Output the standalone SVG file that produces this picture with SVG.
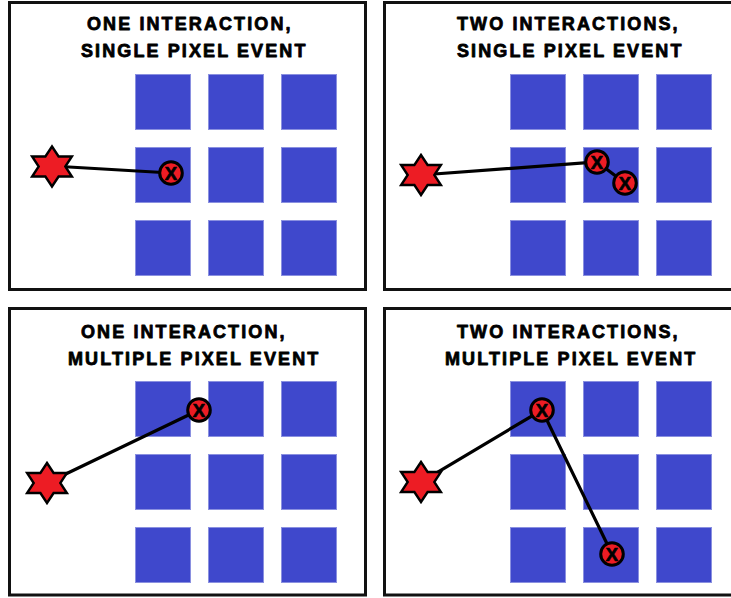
<svg xmlns="http://www.w3.org/2000/svg" xmlns:xlink="http://www.w3.org/1999/xlink" width="731" height="598" viewBox="0 0 731 598">
<style>
.frame{fill:#ffffff;stroke:#111111;stroke-width:3}
.px{fill:#3f48cc;stroke:#8a90e0;stroke-width:1}
.title{font-family:"Liberation Sans",Arial,sans-serif;font-weight:bold;font-size:18px;letter-spacing:2.1px;fill:#000;stroke:#000;stroke-width:0.8;stroke-linejoin:round}
.link{stroke:#000;stroke-width:3.2;fill:none;stroke-linecap:round}
.star{fill:#ed1c24;stroke:#000;stroke-width:2.4;stroke-linejoin:miter}
.hit{fill:#ed1c24;stroke:#000;stroke-width:3}
.xm{font-family:"Liberation Sans",Arial,sans-serif;font-weight:bold;font-size:18.5px;text-anchor:middle;fill:#000;stroke:#000;stroke-width:0.7}
</style>
<defs>
<path id="starShape" d="M0,-20 L6.6,-10 L19.9,-10 L13.3,0 L19.9,10 L6.6,10 L0,20 L-6.6,10 L-19.9,10 L-13.3,0 L-19.9,-10 L-6.6,-10 Z"/>
<g id="grid">
<rect class="px" x="0.5" y="0.5" width="55" height="55"/>
<rect class="px" x="73.5" y="0.5" width="55" height="55"/>
<rect class="px" x="146.5" y="0.5" width="55" height="55"/>
<rect class="px" x="0.5" y="73.5" width="55" height="55"/>
<rect class="px" x="73.5" y="73.5" width="55" height="55"/>
<rect class="px" x="146.5" y="73.5" width="55" height="55"/>
<rect class="px" x="0.5" y="146.5" width="55" height="55"/>
<rect class="px" x="73.5" y="146.5" width="55" height="55"/>
<rect class="px" x="146.5" y="146.5" width="55" height="55"/>
</g>
</defs>

<g id="panel-tl">
<rect class="frame" x="9.5" y="2.5" width="356" height="287"/>
<text class="title" x="87" y="30">ONE INTERACTION,</text>
<text class="title" x="81" y="57">SINGLE PIXEL EVENT</text>
<use xlink:href="#grid" x="135" y="74"/>
</g>
<g id="panel-tr">
<rect class="frame" x="384.5" y="2.5" width="350" height="287"/>
<text class="title" x="457" y="30">TWO INTERACTIONS,</text>
<text class="title" x="457" y="57">SINGLE PIXEL EVENT</text>
<use xlink:href="#grid" x="510" y="74"/>
</g>
<g id="panel-bl">
<rect class="frame" x="9.5" y="308.5" width="356" height="286.5"/>
<text class="title" x="81" y="338">ONE INTERACTION,</text>
<text class="title" x="68" y="365">MULTIPLE PIXEL EVENT</text>
<use xlink:href="#grid" x="135" y="381"/>
</g>
<g id="panel-br">
<rect class="frame" x="384.5" y="308.5" width="350" height="286.5"/>
<text class="title" x="457" y="338">TWO INTERACTIONS,</text>
<text class="title" x="445" y="365">MULTIPLE PIXEL EVENT</text>
<use xlink:href="#grid" x="510" y="381"/>
</g>

<g id="connectors">
<polyline class="link" points="52,166 171,173"/>
<polyline class="link" points="421,175 597,162 625,183"/>
<polyline class="link" points="47,483 199,410"/>
<polyline class="link" points="421,482 542,410 612,554"/>
</g>

<g id="source-tl"><use xlink:href="#starShape" class="star" transform="translate(52,166.5)"/></g>
<g id="source-tr"><use xlink:href="#starShape" class="star" transform="translate(421,175)"/></g>
<g id="source-bl"><use xlink:href="#starShape" class="star" transform="translate(47,483)"/></g>
<g id="source-br"><use xlink:href="#starShape" class="star" transform="translate(421,482)"/></g>

<g id="hit-tl"><circle class="hit" cx="171" cy="173" r="11.3"/><text class="xm" x="171" y="179.6">X</text></g>
<g id="hit-tr1"><circle class="hit" cx="597" cy="162" r="11.3"/><text class="xm" x="597" y="168.6">X</text></g>
<g id="hit-tr2"><circle class="hit" cx="625" cy="183" r="11.3"/><text class="xm" x="625" y="189.6">X</text></g>
<g id="hit-bl"><circle class="hit" cx="199" cy="410" r="11.3"/><text class="xm" x="199" y="416.6">X</text></g>
<g id="hit-br1"><circle class="hit" cx="542" cy="410" r="11.3"/><text class="xm" x="542" y="416.6">X</text></g>
<g id="hit-br2"><circle class="hit" cx="612" cy="554" r="11.3"/><text class="xm" x="612" y="560.6">X</text></g>
</svg>
